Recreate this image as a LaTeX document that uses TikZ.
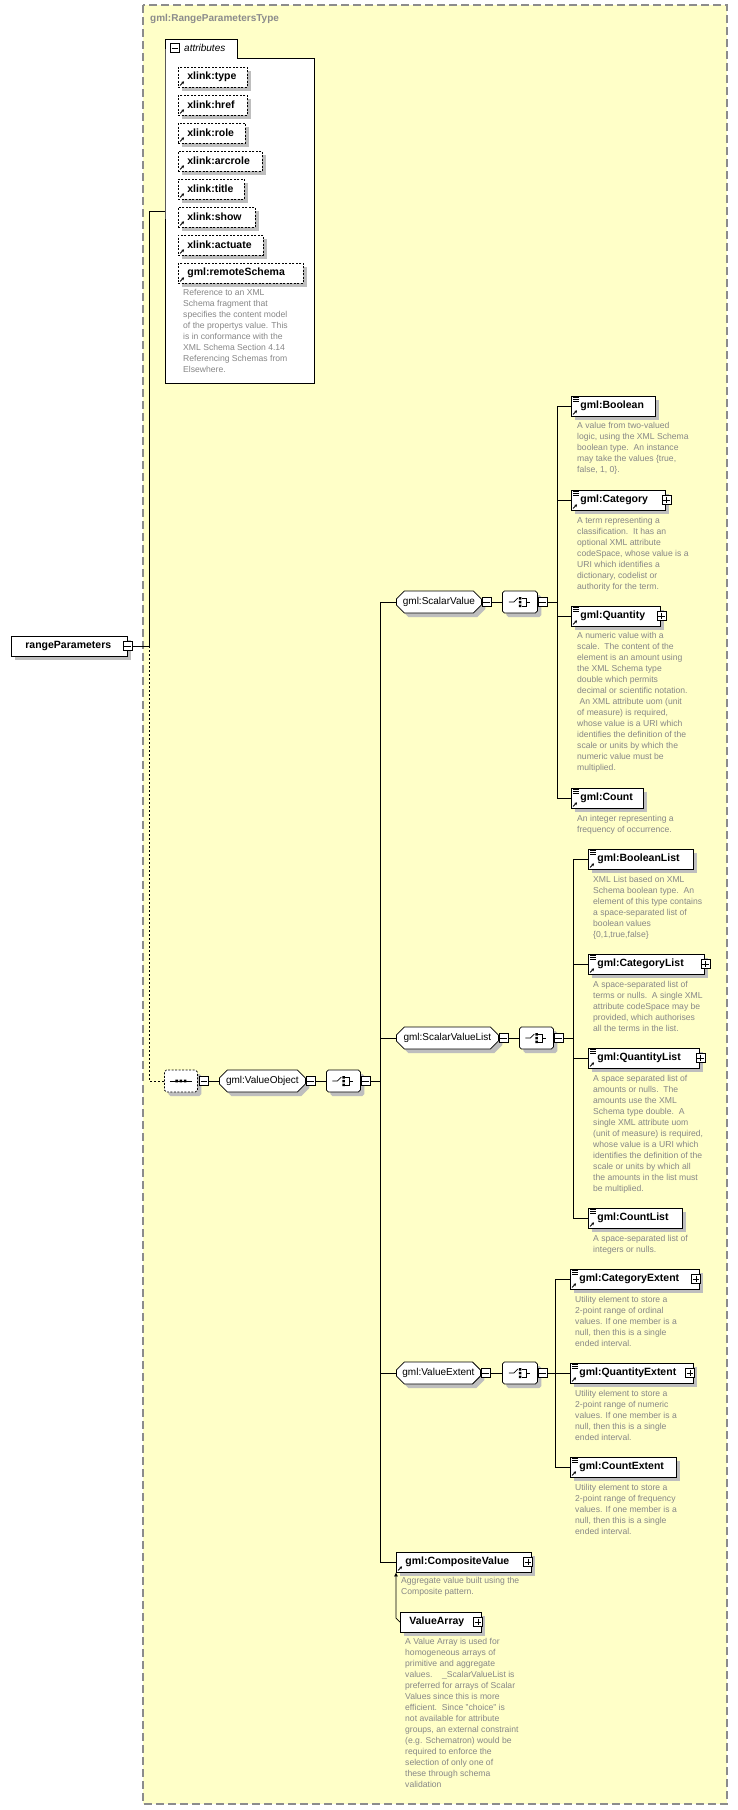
\documentclass[tikz,border=0pt]{standalone}
\usepackage{fontspec}
\setmainfont{Liberation Sans}
\usetikzlibrary{shapes.misc,shadows,calc,arrows.meta}
\definecolor{bgyellow}{RGB}{255,255,200}
\definecolor{descgray}{RGB}{135,135,135}
\definecolor{framegray}{RGB}{140,140,140}
\definecolor{shadowgray}{RGB}{190,190,190}
\tikzset{
 shd/.style={drop shadow={shadow xshift=4pt,shadow yshift=-4pt,fill=shadowgray,opacity=1}},
 elem/.style={draw,fill=white,line width=0.8pt,shd,minimum height=20pt,inner xsep=0pt,inner ysep=0pt,anchor=west,font=\bfseries\fontsize{10.5}{12}\selectfont,align=left},
 attr/.style={elem,dash pattern=on 2pt off 1.5pt},
 oct/.style={chamfered rectangle,chamfered rectangle xsep=4pt,chamfered rectangle ysep=4pt,draw,fill=white,line width=0.8pt,shd,minimum height=22pt,inner xsep=2pt,inner ysep=0pt,anchor=west,font=\fontsize{10}{12}\selectfont},
 desc/.style={anchor=north west,inner sep=0pt,align=left,text=descgray,font=\fontsize{8.6}{11}\selectfont},
 conn/.style={line width=0.8pt},
 smallbox/.style={draw,fill=white,line width=0.6pt,minimum size=9pt,inner sep=0pt},
}
\newcommand\elemicon[1]{%
 \draw[line width=0.6pt] ($(#1.north west)+(2,2)$)--++(6,0) ($(#1.north west)+(2,4)$)--++(6,0) ($(#1.north west)+(2,6)$)--++(6,0);
 \draw[line width=0.9pt,-{Stealth[length=2.5pt,width=3pt]}] ($(#1.south west)+(2,-2)$)--++(4,-4);}
\newcommand\attricon[1]{%
 \draw[line width=0.9pt,-{Stealth[length=2.5pt,width=3pt]}] ($(#1.south west)+(2,-2)$)--++(4,-4);}
\newcommand\plusicon[2]{% name, position
 \node[smallbox] (#1) at #2 {};
 \draw[line width=0.6pt] ($(#1.west)+(1.5,0)$)--($(#1.east)+(-1.5,0)$) ($(#1.north)+(0,1.5)$)--($(#1.south)+(0,-1.5)$);}
\newcommand\minusicon[2]{%
 \node[smallbox,anchor=west] (#1) at #2 {};
 \draw[line width=0.6pt] ($(#1.west)+(1.5,0)$)--($(#1.east)+(-1.5,0)$);}
\newcommand\choiceicon[1]{%
 \draw[line width=0.7pt] ($(#1.center)+(-11,0)$)--++(5,0)--++(4,-4);
 \fill ($(#1.center)+(-1,-5)$) rectangle ++(2.5,2.5) ($(#1.center)+(-1,-1.2)$) rectangle ++(2.5,2.5) ($(#1.center)+(-1,2.6)$) rectangle ++(2.5,2.5);
 \draw[line width=0.7pt] ($(#1.center)+(2,-4)$)--++(4,0)--++(0,8)--++(-4,0) ($(#1.center)+(6,0)$)--++(4,0);}
\newcommand\seqicon[1]{%
 \draw[line width=0.7pt] ($(#1.center)+(-11,0)$)--++(22,0);
 \fill ($(#1.center)+(-5.5,-1.3)$) rectangle ++(2.6,2.6) ($(#1.center)+(-1.3,-1.3)$) rectangle ++(2.6,2.6) ($(#1.center)+(2.9,-1.3)$) rectangle ++(2.6,2.6);}
\begin{document}
\begin{tikzpicture}[x=1pt,y=-1pt]
\useasboundingbox (0,0) rectangle (737,1810);
% container
\draw[fill=bgyellow,draw=framegray,line width=1.3pt,dash pattern=on 8pt off 4pt] (143,5) rectangle (727,1804);
\node[anchor=west,text=framegray,font=\bfseries\fontsize{10}{12}\selectfont,inner sep=0pt] (title) at (150,19) {gml:RangeParametersType};
% attributes box
\draw[fill=white,line width=0.8pt] (165,58)--(165,39)--(237,39)--(237,58)--(314,58)--(314,383)--(165,383)--cycle;
\minusicon{attrm}{(170,48)}
\node[anchor=west,font=\itshape\fontsize{10}{12}\selectfont,inner sep=0pt] (attrlbl) at (184,48) {attributes};
\coordinate (attrin) at (165,211);
\node[attr,text width=69pt] (a1) at (178,77) {\hspace*{9pt}xlink:type};
\node[attr,text width=69pt] (a2) at (178,105) {\hspace*{9pt}xlink:href};
\node[attr,text width=67pt] (a3) at (178,133) {\hspace*{9pt}xlink:role};
\node[attr,text width=84pt] (a4) at (178,161) {\hspace*{9pt}xlink:arcrole};
\node[attr,text width=66pt] (a5) at (178,189) {\hspace*{9pt}xlink:title};
\node[attr,text width=77pt] (a6) at (178,217) {\hspace*{9pt}xlink:show};
\node[attr,text width=85pt] (a7) at (178,245) {\hspace*{9pt}xlink:actuate};
\node[attr,text width=125pt] (a8) at (178,273) {\hspace*{9pt}gml:remoteSchema};
\foreach \n in {a1,a2,a3,a4,a5,a6,a7,a8} {\attricon{\n}}
\node[desc] (a8d) at (183,289) {Reference to an XML\\Schema fragment that\\specifies the content model\\of the propertys value. This\\is in conformance with the\\XML Schema Section 4.14\\Referencing Schemas from\\Elsewhere.};
% root
\node[elem,text width=116pt] (root) at (11,646) {\hspace*{14pt}rangeParameters};
\minusicon{rootm}{($(root.east)+(-5,0)$)}
\coordinate (j1) at (149,646);
\draw[conn] (rootm.east)--(j1);
\draw[conn] (j1)--(149,211)--(attrin);
% sequence and ValueObject
\node[oct,dash pattern=on 2pt off 1.5pt,minimum width=33pt] (seq) at (164,1081) {};
\seqicon{seq}
\minusicon{seqm}{(199,1081)}
\draw[conn,dash pattern=on 2pt off 2pt] (j1)--(149,1081)--(seq.west);
\node[oct,minimum width=86pt] (vo) at (219,1081) {gml:ValueObject};
\minusicon{vom}{(vo.east)}
\draw[conn] (seqm.east)--(vo.west);
\node[oct,minimum width=34pt] (ch0) at (326,1081) {};
\choiceicon{ch0}
\minusicon{ch0m}{(ch0.east)}
\draw[conn] (vom.east)--(ch0.west);
\draw[conn] (ch0m.east)--(380,1081);
\draw[conn] (380,602)--(380,1562);
% ScalarValue
\node[oct,minimum width=85pt] (sv) at (396,602) {gml:ScalarValue};
\minusicon{svm}{(sv.east)}
\node[oct,minimum width=35pt] (ch1) at (502,602) {};
\choiceicon{ch1}
\minusicon{ch1m}{(ch1.east)}
\draw[conn] (380,602)--(sv.west) (svm.east)--(ch1.west) (ch1m.east)--(557,602);
\draw[conn] (557,406)--(557,798);
\node[elem,text width=84pt] (bool) at (571,406) {\hspace*{9pt}gml:Boolean};
\node[elem,text width=94pt] (cat) at (571,500) {\hspace*{9pt}gml:Category};
\node[elem,text width=89pt] (qty) at (571,616) {\hspace*{9pt}gml:Quantity};
\node[elem,text width=72pt] (cnt) at (571,798) {\hspace*{9pt}gml:Count};
\foreach \n in {bool,cat,qty,cnt} {\draw[conn] (557,0 |- \n.west)--(\n.west); \elemicon{\n}}
\plusicon{catp}{($(cat.east)+(0.5,0)$)}
\plusicon{qtyp}{($(qty.east)+(0.5,0)$)}
\node[desc] at (577,422) {A value from two-valued\\logic, using the XML Schema\\boolean type.\ \ An instance\\may take the values \{true,\\false, 1, 0\}.};
\node[desc] at (577,517) {A term representing a\\classification.\ \ It has an\\optional XML attribute\\codeSpace, whose value is a\\URI which identifies a\\dictionary, codelist or\\authority for the term.};
\node[desc] at (577,632) {A numeric value with a\\scale.\ \ The content of the\\element is an amount using\\the XML Schema type\\double which permits\\decimal or scientific notation.\\\ An XML attribute uom (unit\\of measure) is required,\\whose value is a URI which\\identifies the definition of the\\scale or units by which the\\numeric value must be\\multiplied.};
\node[desc] at (577,815) {An integer representing a\\frequency of occurrence.};
% ScalarValueList
\node[oct,minimum width=102pt] (svl) at (396,1038) {gml:ScalarValueList};
\minusicon{svlm}{(svl.east)}
\node[oct,minimum width=34pt] (ch2) at (519,1038) {};
\choiceicon{ch2}
\minusicon{ch2m}{(ch2.east)}
\draw[conn] (380,1038)--(svl.west) (svlm.east)--(ch2.west) (ch2m.east)--(573,1038);
\draw[conn] (573,859)--(573,1218);
\node[elem,text width=105pt] (bl) at (588,859) {\hspace*{9pt}gml:BooleanList};
\node[elem,text width=116pt] (cl) at (588,964) {\hspace*{9pt}gml:CategoryList};
\node[elem,text width=111pt] (ql) at (588,1058) {\hspace*{9pt}gml:QuantityList};
\node[elem,text width=94pt] (nl) at (588,1218) {\hspace*{9pt}gml:CountList};
\foreach \n in {bl,cl,ql,nl} {\draw[conn] (573,0 |- \n.west)--(\n.west); \elemicon{\n}}
\plusicon{clp}{($(cl.east)+(0.5,0)$)}
\plusicon{qlp}{($(ql.east)+(0.5,0)$)}
\node[desc] at (593,876) {XML List based on XML\\Schema boolean type.\ \ An\\element of this type contains\\a space-separated list of\\boolean values\\\{0,1,true,false\}};
\node[desc] at (593,981) {A space-separated list of\\terms or nulls.\ \ A single XML\\attribute codeSpace may be\\provided, which authorises\\all the terms in the list.};
\node[desc] at (593,1075) {A space separated list of\\amounts or nulls.\ \ The\\amounts use the XML\\Schema type double.\ \ A\\single XML attribute uom\\(unit of measure) is required,\\whose value is a URI which\\identifies the definition of the\\scale or units by which all\\the amounts in the list must\\be multiplied.};
\node[desc] at (593,1235) {A space-separated list of\\integers or nulls.};
% ValueExtent
\node[oct,minimum width=84pt] (ve) at (396,1373) {gml:ValueExtent};
\minusicon{vem}{(ve.east)}
\node[oct,minimum width=35pt] (ch3) at (502,1373) {};
\choiceicon{ch3}
\minusicon{ch3m}{(ch3.east)}
\draw[conn] (380,1373)--(ve.west) (vem.east)--(ch3.west) (ch3m.east)--(555,1373);
\draw[conn] (555,1279)--(555,1467);
\node[elem,text width=129pt] (ce) at (570,1279) {\hspace*{9pt}gml:CategoryExtent};
\node[elem,text width=123pt] (qe) at (570,1373) {\hspace*{9pt}gml:QuantityExtent};
\node[elem,text width=106pt] (ne) at (570,1467) {\hspace*{9pt}gml:CountExtent};
\foreach \n in {ce,qe,ne} {\draw[conn] (555,0 |- \n.west)--(\n.west); \elemicon{\n}}
\plusicon{cep}{($(ce.east)+(-4,0)$)}
\plusicon{qep}{($(qe.east)+(-4,0)$)}
\node[desc] at (575,1296) {Utility element to store a\\2-point range of ordinal\\values. If one member is a\\null, then this is a single\\ended interval.};
\node[desc] at (575,1390) {Utility element to store a\\2-point range of numeric\\values. If one member is a\\null, then this is a single\\ended interval.};
\node[desc] at (575,1484) {Utility element to store a\\2-point range of frequency\\values. If one member is a\\null, then this is a single\\ended interval.};
% CompositeValue
\node[elem,text width=135pt] (cv) at (396,1562) {\hspace*{9pt}gml:CompositeValue};
\attricon{cv}
\plusicon{cvp}{($(cv.east)+(-4,0)$)}
\draw[conn] (380,1562)--(cv.west);
\node[desc] at (401,1577) {Aggregate value built using the\\Composite pattern.};
\node[elem,text width=81pt] (va) at (400,1622) {\hspace*{9pt}ValueArray};
\plusicon{vap}{($(va.east)+(-4,0)$)}
\draw[line width=0.7pt,-{Latex[length=4pt,width=4pt]}] (va.west)--++(-4,-4)--(cv.south west);
\node[desc] at (405,1638) {A Value Array is used for\\homogeneous arrays of\\primitive and aggregate\\values.\ \ \ \ \_ScalarValueList is\\preferred for arrays of Scalar\\Values since this is more\\efficient.\ \ Since "choice" is\\not available for attribute\\groups, an external constraint\\(e.g. Schematron) would be\\required to enforce the\\selection of only one of\\these through schema\\validation};
\end{tikzpicture}
\end{document}
